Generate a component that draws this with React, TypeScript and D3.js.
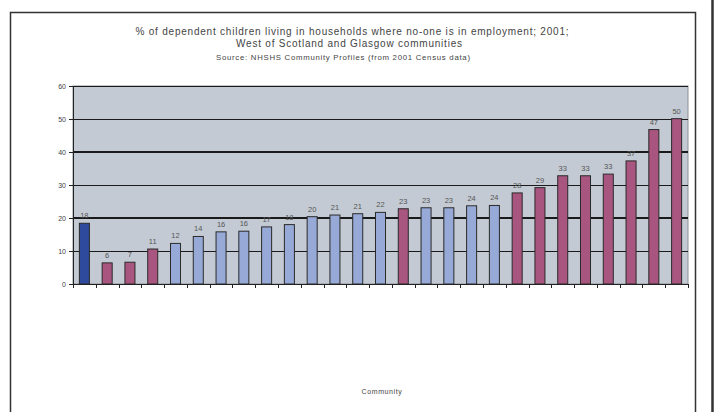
import React from "react";
import * as d3 from "d3";

// Share of dependent children in workless households, by community (2001)
const values: number[] = [
  18.4, 6.4, 6.6, 10.6, 12.3, 14.4, 15.8, 16.0, 17.3, 18.0, 20.4, 20.9, 21.3, 21.7,
  22.8, 23.1, 23.1, 23.7, 23.8, 27.6, 29.2, 32.8, 32.8, 33.3, 37.3, 46.8, 50.1,
];
// Colour group of each bar: area average, highlighted, other
const groups: string[] = [
  "avg", "hi", "hi", "hi", "lo", "lo", "lo", "lo", "lo", "lo", "lo", "lo", "lo", "lo",
  "hi", "lo", "lo", "lo", "lo", "hi", "hi", "hi", "hi", "hi", "hi", "hi", "hi",
];
const yTicks: number[] = [0, 10, 20, 30, 40, 50, 60];
const titleLines: string[] = [
  "% of dependent children living in households where no-one is in employment; 2001;",
  "West of Scotland and Glasgow communities",
];
const sourceLine = "Source: NHSHS Community Profiles (from 2001 Census data)";
const xTitle = "Community";

const groupColor: Record<string, string> = {
  avg: "#2d4a9c",
  hi: "#a8557f",
  lo: "#97a9d6",
};

const W = 719;
const H = 412;
const plot = { left: 73, right: 688, top: 86, bottom: 284 };
const font = "'Liberation Sans', Arial, sans-serif";

export default function App() {
  const idx = values.map((_, i) => i);
  const x = d3
    .scaleBand<number>()
    .domain(idx)
    .range([plot.left, plot.right])
    .paddingInner(0.56)
    .paddingOuter(0.28);
  const y = d3.scaleLinear().domain([0, 60]).range([plot.bottom, plot.top]);
  const step = x.step();
  const fmt = d3.format(".0f");

  return (
    <svg
      width={W}
      height={H}
      style={{ position: "absolute", left: 0, top: 0, display: "block", background: "#fff" }}
      fontFamily={font}
    >
      {/* outer chart frame */}
      <path
        d={`M10.5,${H} V12.5 H695.5 V${H}`}
        fill="none"
        stroke="#333"
        strokeWidth={1.5}
      />
      <line x1={712.5} x2={712.5} y1={0} y2={H} stroke="#333" strokeWidth={2.5} />

      {/* titles */}
      <text x={352} y={35} textAnchor="middle" fontSize={10} fill="#444" textLength={433} lengthAdjust="spacing">
        {titleLines[0]}
      </text>
      <text x={349} y={47} textAnchor="middle" fontSize={10} fill="#444" textLength={226} lengthAdjust="spacing">
        {titleLines[1]}
      </text>
      <text x={343} y={59.5} textAnchor="middle" fontSize={7.8} fill="#444" textLength={254} lengthAdjust="spacing">
        {sourceLine}
      </text>

      {/* plot background */}
      <rect
        x={plot.left}
        y={plot.top}
        width={plot.right - plot.left}
        height={plot.bottom - plot.top}
        fill="#c3cad3"
        stroke="#8a8f96"
        strokeWidth={1}
      />

      {/* gridlines */}
      {yTicks
        .filter((t) => t > 0)
        .map((t) => {
          const thick = t === 20 || t === 40;
          const gy = thick ? y(t) : y(t) + 0.5;
          return (
            <line
              key={`g${t}`}
              x1={plot.left}
              x2={plot.right}
              y1={gy}
              y2={gy}
              stroke="#1a1a1a"
              strokeWidth={thick ? 2 : 1}
            />
          );
        })}

      {/* y axis */}
      <line x1={plot.left + 0.5} x2={plot.left + 0.5} y1={plot.top} y2={plot.bottom} stroke="#222" strokeWidth={1} />
      {yTicks.map((t) => (
        <g key={`y${t}`}>
          <line x1={plot.left - 4} x2={plot.left} y1={y(t) + 0.5} y2={y(t) + 0.5} stroke="#222" strokeWidth={1} />
          <text x={plot.left - 7} y={y(t) + 2.5} textAnchor="end" fontSize={7} fill="#444">
            {t}
          </text>
        </g>
      ))}

      {/* bars */}
      {values.map((v, i) => {
        const bx = x(i) as number;
        return (
          <g key={`b${i}`}>
            <rect
              x={bx}
              y={y(v)}
              width={x.bandwidth()}
              height={y(0) - y(v)}
              fill={groupColor[groups[i]]}
              stroke="#2a2a2a"
              strokeWidth={1}
            />
            <text
              x={bx + x.bandwidth() / 2}
              y={y(v) - 5}
              textAnchor="middle"
              fontSize={7.5}
              fill="#555"
            >
              {fmt(v)}
            </text>
          </g>
        );
      })}

      {/* x axis */}
      <line x1={plot.left} x2={plot.right} y1={plot.bottom + 0.5} y2={plot.bottom + 0.5} stroke="#222" strokeWidth={1} />
      {d3.range(values.length + 1).map((k) => (
        <line
          key={`xt${k}`}
          x1={Math.round(plot.left + k * step) + 0.5}
          x2={Math.round(plot.left + k * step) + 0.5}
          y1={plot.bottom}
          y2={plot.bottom + 4}
          stroke="#222"
          strokeWidth={1}
        />
      ))}
      <text x={382} y={394} textAnchor="middle" fontSize={7} fill="#444" letterSpacing={0.6}>
        {xTitle}
      </text>
    </svg>
  );
}
